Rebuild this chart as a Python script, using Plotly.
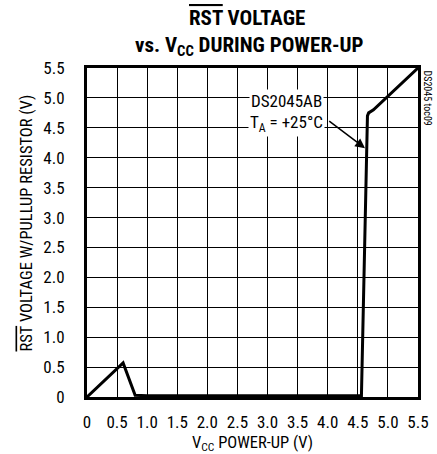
import plotly.graph_objects as go

# Data
vcc = [0, 0.6, 0.8, 1.0, 2.5, 4.56, 4.66, 4.68, 4.76, 5.5]
vrst = [0, 0.57, 0.03, 0.02, 0.02, 0.02, 4.7, 4.75, 4.8, 5.5]

x_tickvals = [0, 0.5, 1.0, 1.5, 2.0, 2.5, 3.0, 3.5, 4.0, 4.5, 5.0, 5.5]
x_ticktext = ["0", "0.5", "1.0", "1.5", "2.0", "2.5", "3.0", "3.5", "4.0", "4.5", "5.0", "5.5"]
y_tickvals = [0, 0.5, 1.0, 1.5, 2.0, 2.5, 3.0, 3.5, 4.0, 4.5, 5.0, 5.5]
y_ticktext = ["0", "0.5", "1.0", "1.5", "2.0", "2.5", "3.0", "3.5", "4.0", "4.5", "5.0", "5.5"]

FONT = "Liberation Sans Narrow, Roboto Condensed, Arial Narrow, Liberation Sans, sans-serif"

fig = go.Figure()
fig.add_trace(go.Scatter(x=vcc, y=vrst, mode="lines",
                         line=dict(color="black", width=3), showlegend=False,
                         hoverinfo="skip"))

fig.update_layout(
    width=437, height=454,
    margin=dict(l=87, r=19, t=68, b=57, autoexpand=False),
    paper_bgcolor="white", plot_bgcolor="white",
    font=dict(family=FONT, color="black", size=17),
)
fig.update_xaxes(range=[0, 5.5], tickvals=x_tickvals, ticktext=x_ticktext,
                 showgrid=True, gridcolor="black", gridwidth=1, zeroline=False,
                 showline=True, linecolor="black", linewidth=3, mirror=True,
                 ticks="", ticklabelstandoff=8, automargin=False,
                 tickfont=dict(size=17))
fig.update_yaxes(range=[0, 5.5], tickvals=y_tickvals, ticktext=y_ticktext,
                 showgrid=True, gridcolor="black", gridwidth=1, zeroline=False,
                 showline=True, linecolor="black", linewidth=3, mirror=True,
                 ticks="", ticklabelstandoff=16, automargin=False,
                 tickfont=dict(size=17))

# Axis titles
fig.add_annotation(xref="paper", yref="paper", x=0.5, y=0, yshift=-46,
                   text="V<sub>CC</sub> POWER-UP (V)", showarrow=False,
                   font=dict(size=16.5), xanchor="center", yanchor="middle")
fig.add_annotation(xref="paper", yref="paper", x=0, y=0.5, xshift=-61, yshift=9,
                   text="<span style='text-decoration:overline'>RST</span> VOLTAGE W/PULLUP RESISTOR (V)",
                   textangle=-90, showarrow=False,
                   font=dict(size=16.5), xanchor="center", yanchor="middle")

# Title
fig.add_annotation(xref="paper", yref="paper", x=0.483, y=1.0, yshift=50,
                   text="<b><span style='text-decoration:overline'>RST</span> VOLTAGE</b>",
                   showarrow=False, font=dict(size=21), xanchor="center", yanchor="middle")
fig.add_annotation(xref="paper", yref="paper", x=0.49, y=1.0, yshift=22,
                   text="<b>vs. V<sub>CC</sub> DURING POWER-UP</b>",
                   showarrow=False, font=dict(size=21), xanchor="center", yanchor="middle")

# In-plot labels
fig.add_annotation(x=3.31, y=4.95, text="DS2045AB", showarrow=False,
                   bgcolor="white", font=dict(size=17), borderpad=1)
fig.add_annotation(x=3.31, y=4.58, text="T<sub>A</sub> = +25°C", showarrow=False,
                   bgcolor="white", font=dict(size=17), borderpad=1)
fig.add_annotation(x=4.62, y=4.16, ax=4.0, ay=4.63, axref="x", ayref="y",
                   text="", showarrow=True, arrowhead=2, arrowsize=1.3,
                   arrowwidth=1.5, arrowcolor="black")

# Side label
fig.add_annotation(xref="paper", yref="paper", x=1.0, y=1.0, xshift=9,
                   text="DS2045 toc09", textangle=90, showarrow=False,
                   font=dict(size=10), xanchor="center", yanchor="top")

fig.write_html("out.html", config={"displayModeBar": False},
               post_script="document.body.style.margin='0';document.body.style.overflow='hidden';")
